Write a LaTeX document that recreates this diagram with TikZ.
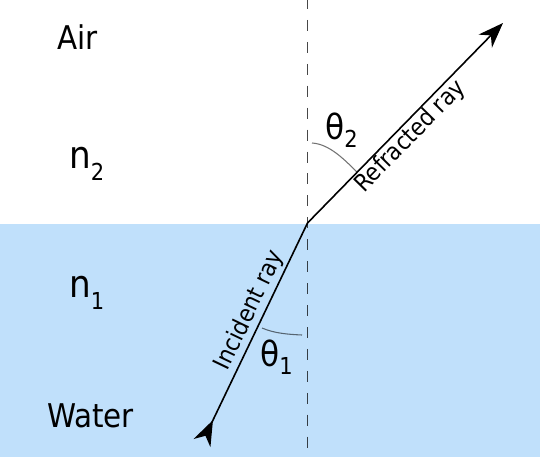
\documentclass[tikz,border=0pt]{standalone}
\usepackage{fontspec}
\setmainfont{DejaVu Sans Condensed}
\usetikzlibrary{arrows.meta}
\definecolor{water}{RGB}{192,224,251}
\newcommand{\subfnt}{\fontsize{17.5}{17.5}\selectfont}
\begin{document}
\begin{tikzpicture}[x=0.75pt,y=-0.75pt,
  big/.style={inner sep=0pt, font=\fontsize{24.5}{28}\selectfont, anchor=base west},
  idx/.style={inner sep=0pt, font=\fontsize{28.5}{30}\selectfont, anchor=base west},
  ang/.style={inner sep=0pt, font=\fontsize{26}{30}\selectfont, anchor=base west},
  raylabel/.style={inner sep=0pt, font=\fontsize{18}{20}\selectfont, anchor=base},
  ray/.style={line width=1.2pt, black},
  normalline/.style={line width=1.2pt, black, opacity=0.72, dash pattern=on 8.25pt off 8.2pt, dash phase=0.75pt},
  anglearc/.style={line width=0.8pt, black, opacity=0.55}]
\fill[white] (0,0) rectangle (540,461);
\useasboundingbox (0,0) rectangle (540,461);
\fill[water] (0,224) rectangle (540,457);
% normal
\coordinate (ntop) at (307.5,-1);
\coordinate (nbot) at (307.5,450);
\draw[normalline] (ntop) -- (nbot);
% rays
\coordinate (P) at (307.5,223);
\coordinate (T) at (503,23);
\coordinate (B) at (202,443);
\draw[ray,-{Stealth[length=19pt,width=14pt,inset=6pt]}] (P) -- (T);
\draw[ray,{Stealth[reversed,length=19pt,width=14pt,inset=6pt]}-] (B) -- (P);
% angle arcs
\draw[anglearc] (312,143) .. controls (329.6,144.1) and (344.4,159.7) .. (357,172);
\draw[anglearc] (262,328) .. controls (274.5,333.4) and (288.4,334.4) .. (302,335);
% labels
\node[big] (air) at (57,49) {Air};
\node[idx] (n2) at (69,168) {n\lower9pt\hbox{\subfnt 2}};
\node[idx] (n1) at (69,297) {n\lower9pt\hbox{\subfnt 1}};
\node[big] (water) at (47,427) {Water};
\node[ang] (t2) at (325,139.5) {θ\lower6pt\hbox{\subfnt 2}};
\node[ang] (t1) at (260,366.5) {θ\lower6pt\hbox{\subfnt 1}};
\node[raylabel, rotate=64.4] (inc) at (255.6,313.4) {Incident ray};
\node[raylabel, rotate=45.6] (ref) at (415.3,141.3) {Refracted ray};
\end{tikzpicture}
\end{document}
